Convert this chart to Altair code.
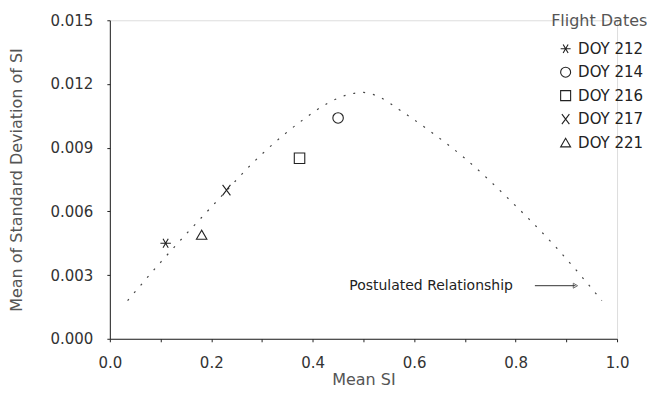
import altair as alt
import pandas as pd

# Observed points
doy = ["DOY 212", "DOY 214", "DOY 216", "DOY 217", "DOY 221"]
mean_si = [0.11, 0.45, 0.374, 0.23, 0.181]
mean_sd = [0.0045, 0.0104, 0.0085, 0.0070, 0.0049]

# Postulated relationship curve
curve_x = [0.035, 0.10, 0.20, 0.30, 0.38, 0.43, 0.47, 0.50, 0.53, 0.57, 0.63, 0.70, 0.79, 0.88, 0.97]
curve_y = [0.0018, 0.0036, 0.0062, 0.0087, 0.0103, 0.0111, 0.0115, 0.0116, 0.0114, 0.0108, 0.0098, 0.0085, 0.0065, 0.0043, 0.0018]

# Annotation
note_text = ["Postulated Relationship"]
note_x = [0.472]
note_y = [0.0025]
arrow_x = [0.838]
arrow_x2 = [0.918]
arrow_y = [0.0025]

# x tick positions (labels only on even tenths)
x_ticks = [0, 0.1, 0.2, 0.3, 0.4, 0.5, 0.6, 0.7, 0.8, 0.9, 1.0]
x_labels = ["0.0", "0.2", "0.4", "0.6", "0.8", "1.0"]
y_ticks = [0, 0.003, 0.006, 0.009, 0.012, 0.015]

asterisk = "M-1,0L1,0M-0.5,-0.866L0.5,0.866M-0.5,0.866L0.5,-0.866"
xmark = "M-0.75,-1L0.75,1M-0.75,1L0.75,-1"
shapes = [asterisk, "circle", "square", xmark, "triangle-up"]

FONT = "DejaVu Sans"
INK = "#333333"
TITLE_INK = "#555555"

pts = pd.DataFrame({"doy": doy, "x": mean_si, "y": mean_sd})
curve = pd.DataFrame({"x": curve_x, "y": curve_y})
note = pd.DataFrame({"t": note_text, "x": note_x, "y": note_y})
arrow = pd.DataFrame({"x": arrow_x, "x2": arrow_x2, "y": arrow_y})

xs = alt.Scale(domain=[0, 1], nice=False)
ys = alt.Scale(domain=[0, 0.015], nice=False)

label_list = "[" + ",".join("'" + l + "'" for l in x_labels) + "]"
x_axis = alt.Axis(
    title="Mean SI",
    values=x_ticks,
    labelExpr="indexof(" + label_list + ", format(datum.value, '.1f')) >= 0 ? format(datum.value, '.1f') : ''",
    grid=False, tickSize=3, labelPadding=14, titlePadding=1, labelFlush=False,
    labelFontSize=15, titleFontSize=16, labelFont=FONT, titleFont=FONT,
    labelColor=INK, titleColor=TITLE_INK, titleFontWeight="normal",
    domainColor="#222", tickColor="#222",
)
y_axis = alt.Axis(
    title="Mean of Standard Deviation of SI",
    values=y_ticks,
    format=".3f",
    grid=False, tickSize=3, labelPadding=14, titlePadding=26, labelFlush=False,
    labelFontSize=15, titleFontSize=16, labelFont=FONT, titleFont=FONT,
    labelColor=INK, titleColor=TITLE_INK, titleFontWeight="normal",
    domainColor="#222", tickColor="#222",
)

line = alt.Chart(curve).mark_line(
    color="#444", strokeWidth=1.2, strokeDash=[2, 8], interpolate="monotone"
).encode(x=alt.X("x:Q", scale=xs, axis=x_axis), y=alt.Y("y:Q", scale=ys, axis=y_axis))

points = alt.Chart(pts).mark_point(
    filled=False, color="#222", size=110, strokeWidth=1.1, opacity=1
).encode(
    x=alt.X("x:Q", scale=xs),
    y=alt.Y("y:Q", scale=ys),
    shape=alt.Shape(
        "doy:N",
        scale=alt.Scale(domain=doy, range=shapes),
        legend=alt.Legend(
            title="Flight Dates", orient="none", legendX=442, legendY=-7,
            titleFont=FONT, titleFontSize=16, titleFontWeight="normal", titleColor=TITLE_INK,
            labelFont=FONT, labelFontSize=15, labelColor="#222",
            symbolSize=100, symbolStrokeWidth=1.1, symbolStrokeColor="#222",
            symbolFillColor="transparent", rowPadding=7.5, titlePadding=12,
            symbolOffset=7, labelOffset=5, labelLimit=200,
        ),
    ),
)

text = alt.Chart(note).mark_text(
    align="left", baseline="middle", font=FONT, fontSize=14, color="#222"
).encode(x=alt.X("x:Q", scale=xs), y=alt.Y("y:Q", scale=ys), text="t:N")

rule = alt.Chart(arrow).mark_rule(color="#333", strokeWidth=1).encode(
    x=alt.X("x:Q", scale=xs), x2="x2:Q", y=alt.Y("y:Q", scale=ys)
)
head = alt.Chart(arrow).mark_point(
    shape="triangle-right", size=25, filled=False, color="#333", strokeWidth=1
).encode(x=alt.X("x2:Q", scale=xs), y=alt.Y("y:Q", scale=ys))

chart = alt.layer(line, points, text, rule, head).properties(
    width=508, height=319,
    autosize=alt.AutoSizeParams(type="none"),
    padding={"left": 102, "top": 12, "right": 30, "bottom": 50},
).configure_view(stroke=None).configure(background="white")

chart.save("out.html", embed_options={"renderer": "svg", "actions": False})
